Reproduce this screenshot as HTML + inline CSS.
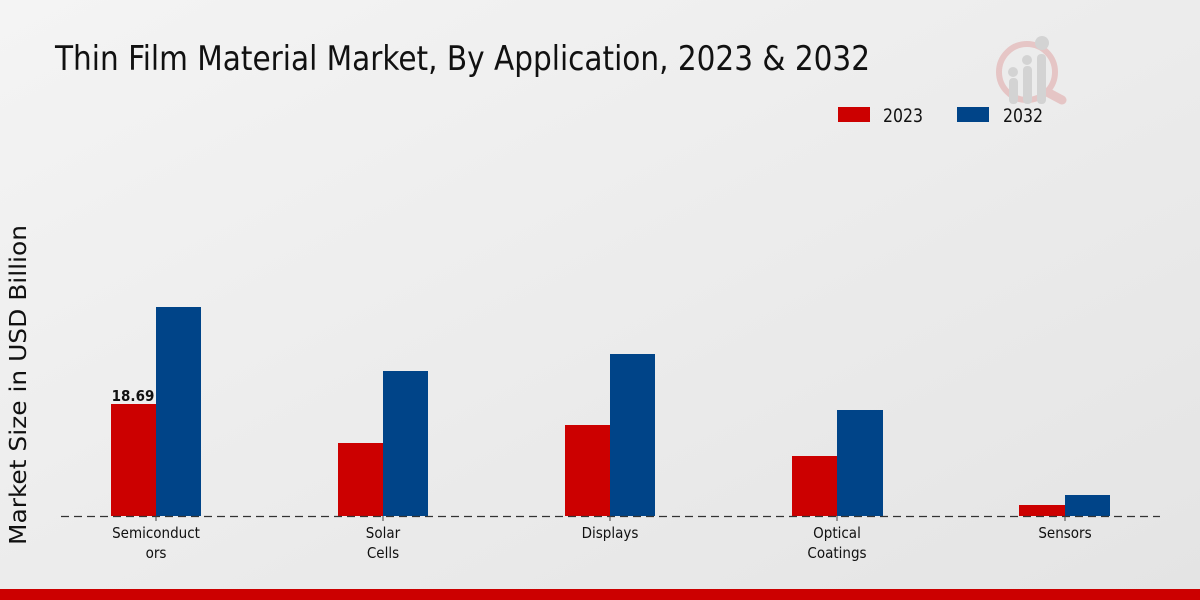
<!DOCTYPE html>
<html><head><meta charset="utf-8"><style>
body{margin:0;width:1200px;height:600px;overflow:hidden}
svg{display:block}
text{font-family:"DejaVu Sans Condensed","DejaVu Sans","Liberation Sans",sans-serif}
</style></head><body>
<svg width="1200" height="600" viewBox="0 0 1200 600">
<defs><linearGradient id="bg" x1="0" y1="0" x2="1" y2="1"><stop offset="0" stop-color="#f4f4f4"/><stop offset="1" stop-color="#e4e4e4"/></linearGradient></defs>
<rect width="1200" height="600" fill="url(#bg)"/>
<text x="55" y="70" font-size="34" fill="#111" textLength="815" lengthAdjust="spacingAndGlyphs">Thin Film Material Market, By Application, 2023 &amp; 2032</text>
<g opacity="0.5">
<circle cx="1027" cy="72" r="28" fill="none" stroke="#e0a0a0" stroke-width="6"/>
<line x1="1047" y1="92" x2="1062" y2="100" stroke="#e0a0a0" stroke-width="9" stroke-linecap="round"/>
<rect x="1009" y="78" width="9" height="26" rx="4" fill="#bbb"/><rect x="1023" y="66" width="9" height="38" rx="4" fill="#bbb"/><rect x="1037" y="54" width="9" height="50" rx="4" fill="#bbb"/>
<circle cx="1013" cy="72" r="5" fill="#bbb"/><circle cx="1027" cy="60" r="5" fill="#bbb"/><circle cx="1042" cy="43" r="7" fill="#bbb"/>
</g>
<rect x="838" y="107" width="32" height="15" fill="#cc0000"/>
<text x="883" y="122" font-size="19" fill="#111" textLength="40" lengthAdjust="spacingAndGlyphs">2023</text>
<rect x="957" y="107" width="32" height="15" fill="#004488"/>
<text x="1003" y="122" font-size="19" fill="#111" textLength="40" lengthAdjust="spacingAndGlyphs">2032</text>
<text transform="translate(26,385) rotate(-90)" font-size="23" fill="#111" text-anchor="middle" textLength="320" lengthAdjust="spacingAndGlyphs" font-family="DejaVu Sans,sans-serif">Market Size in USD Billion</text>
<g>
<rect x="111" y="404" width="45" height="112" fill="#cc0000"/><rect x="156" y="307" width="45" height="209" fill="#004488"/>
<rect x="338" y="443" width="45" height="73" fill="#cc0000"/><rect x="383" y="371" width="45" height="145" fill="#004488"/>
<rect x="565" y="425" width="45" height="91" fill="#cc0000"/><rect x="610" y="354" width="45" height="162" fill="#004488"/>
<rect x="792" y="456" width="45" height="60" fill="#cc0000"/><rect x="837" y="410" width="46" height="106" fill="#004488"/>
<rect x="1019" y="505" width="46" height="11" fill="#cc0000"/><rect x="1065" y="495" width="45" height="21" fill="#004488"/>
</g>
<line x1="61" y1="516.5" x2="1160" y2="516.5" stroke="#333" stroke-width="1.2" stroke-dasharray="8,5"/>
<g stroke="#444"><line x1="156" y1="516" x2="156" y2="521"/><line x1="383" y1="516" x2="383" y2="521"/><line x1="610" y1="516" x2="610" y2="521"/><line x1="837" y1="516" x2="837" y2="521"/><line x1="1065" y1="516" x2="1065" y2="521"/></g>
<text x="133" y="401" font-size="15" font-weight="bold" fill="#111" text-anchor="middle" font-family="DejaVu Sans,sans-serif">18.69</text>
<g font-size="15" fill="#111" text-anchor="middle">
<text x="156" y="538">Semiconduct</text><text x="156" y="558">ors</text>
<text x="383" y="538">Solar</text><text x="383" y="558">Cells</text>
<text x="610" y="538">Displays</text>
<text x="837" y="538">Optical</text><text x="837" y="558">Coatings</text>
<text x="1065" y="538">Sensors</text>
</g>
<rect x="0" y="589" width="1200" height="11" fill="#cc0000"/>
</svg>
</body></html>
